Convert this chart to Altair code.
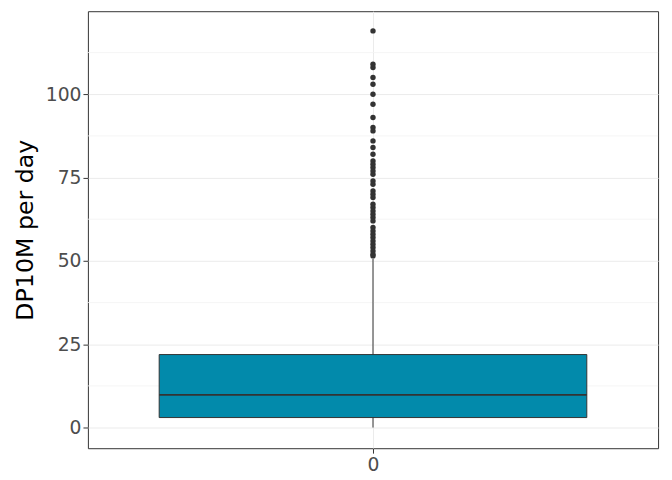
import altair as alt
import pandas as pd

group = ["0"]
q1 = [3.0]
median = [9.8]
q3 = [21.9]
whisker_low = [0.0]
whisker_high = [50.6]
outliers = [119, 109, 108, 105, 103, 100, 97, 93, 90, 89, 86, 84, 82, 80, 79, 78,
            77, 76, 74, 73, 71, 70, 69, 67, 66, 65, 64, 63, 62, 60, 59, 58, 57, 56,
            55, 54, 53, 52, 51.5]
minor_grid = [12.5, 37.5, 62.5, 87.5, 112.5]

stats = pd.DataFrame({"x": [0.5], "x1": [0.125], "x2": [0.875], "q1": q1,
                      "median": median, "q3": q3, "lo": whisker_low, "hi": whisker_high})
pts = pd.DataFrame({"x": [0.5] * len(outliers), "y": outliers})
grid = pd.DataFrame({"y": minor_grid})

xs = alt.Scale(domain=[0, 1])
ys = alt.Scale(domain=[-6.2, 124.9], nice=False, zero=False)
xax = alt.Axis(values=[0.5], labelExpr="'0'", title=None, labelFontSize=19,
               labelColor="#4d4d4d", tickColor="#333333", gridColor="#ebebeb",
               domain=False, labelPadding=3)
yax = alt.Axis(values=[0, 25, 50, 75, 100],
               title="DP10M per day", titleFontSize=24, titleFontWeight="normal",
               titleColor="black", labelFontSize=19, labelColor="#4d4d4d",
               tickColor="#333333", gridColor="#ebebeb", domain=False, titlePadding=8)

minor = alt.Chart(grid).mark_rule(color="#f2f2f2", strokeWidth=0.8).encode(
    y=alt.Y("y:Q", scale=ys, axis=yax))
base = alt.Chart(stats)
whisker = base.mark_rule(color="#333333").encode(
    x=alt.X("x:Q", scale=xs, axis=xax), y="lo:Q", y2="hi:Q")
box = base.mark_rect(fill="#028AAB", stroke="#333333", strokeWidth=1).encode(
    x="x1:Q", x2="x2:Q", y="q1:Q", y2="q3:Q")
med = base.mark_rule(color="#333333", strokeWidth=2).encode(
    x="x1:Q", x2="x2:Q", y="median:Q")
dots = alt.Chart(pts).mark_circle(color="#333333", size=30, opacity=1).encode(
    x="x:Q", y="y:Q")

chart = (minor + whisker + box + med + dots).properties(
    width=578, height=443, padding={"top": 0, "left": 5, "right": 5, "bottom": 5}
).configure_view(stroke="#333333", strokeWidth=1).configure_axis(
    labelFont="DejaVu Sans", titleFont="DejaVu Sans")

chart.save("out.html", embed_options={"renderer": "svg", "actions": False})
